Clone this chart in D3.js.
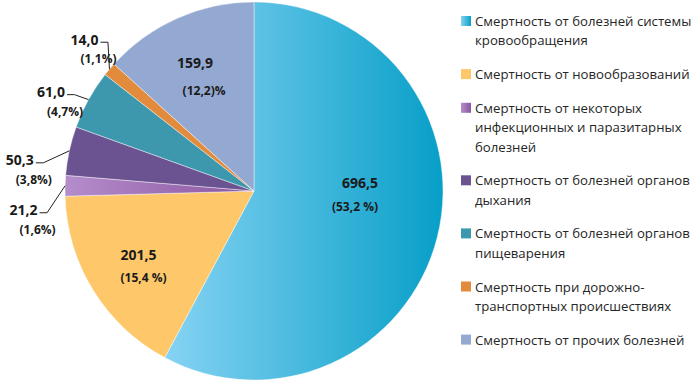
<!doctype html>
<html>
<head>
<meta charset="utf-8">
<script src="https://cdn.jsdelivr.net/npm/d3@7"></script>
<style>
  body { margin: 0; background: #fff; }
  svg { display: block; font-family: "Open Sans", sans-serif; }
</style>
</head>
<body>
<script>
// Data
const categories = [
  ["Смертность от болезней системы", "кровообращения"],
  ["Смертность от новообразований"],
  ["Смертность от некоторых", "инфекционных и паразитарных", "болезней"],
  ["Смертность от болезней органов", "дыхания"],
  ["Смертность от болезней органов", "пищеварения"],
  ["Смертность при дорожно-", "транспортных происшествиях"],
  ["Смертность от прочих болезней"]
];
const values = [696.5, 201.5, 21.2, 50.3, 61.0, 14.0, 159.9];
const valueLabels = ["696,5", "201,5", "21,2", "50,3", "61,0", "14,0", "159,9"];
const shareLabels = ["(53,2 %)", "(15,4 %)", "(1,6%)", "(3,8%)", "(4,7%)", "(1,1%)", "(12,2)%"];
const colors = [
  ["#86d3f3", "#079fc8"],
  ["#fec86a"],
  ["#b58dcb", "#8a55a0"],
  ["#6b5391"],
  ["#3d98ae"],
  ["#e38b3c"],
  ["#94a9d2"]
];

// Label placement (offsets from the computed arc points)
const inside = new Map([
  [0, {value: [-4, -36], share: [-9, -12]}],
  [1, {value: [-19, 4], share: [-14, 27]}],
  [6, {value: [-13, -25], share: [-4, 3]}]
]);
const outside = new Map([
  [2, [-18, 27]],
  [3, [-26, 12]],
  [4, [-14, -5]],
  [5, [-1.5, -27]]
]);

// Dimensions
const width = 700;
const height = 387;
const cx = 254;
const cy = 191;
const radius = 189;

const svg = d3.create("svg")
    .attr("viewBox", [0, 0, width, height])
    .attr("width", width)
    .attr("height", height);

// Gradients for the shaded slices
const defs = svg.append("defs");
colors.forEach((c, i) => {
  if (c.length < 2) return;
  const g = defs.append("linearGradient")
      .attr("id", `grad${i}`)
      .attr("x1", 0).attr("x2", 1).attr("y1", 0).attr("y2", 0);
  g.append("stop").attr("offset", 0).attr("stop-color", c[0]);
  g.append("stop").attr("offset", 1).attr("stop-color", c[1]);
});
const fill = (i) => colors[i].length > 1 ? `url(#grad${i})` : colors[i][0];

const pie = d3.pie().sort(null).value((d) => d);
const arcs = pie(values);
const arc = d3.arc().innerRadius(0).outerRadius(radius);
const labelArc = d3.arc().innerRadius(radius * 0.6).outerRadius(radius * 0.6);

const g = svg.append("g").attr("transform", `translate(${cx},${cy})`);

g.selectAll("path")
  .data(arcs)
  .join("path")
    .attr("d", arc)
    .attr("fill", (d, i) => fill(i))
    .attr("stroke", "#fff")
    .attr("stroke-opacity", 0.6)
    .attr("stroke-width", 0.7);

// Labels inside the big slices
for (const [i, off] of inside) {
  const [x, y] = labelArc.centroid(arcs[i]);
  g.append("text")
      .attr("x", x + off.value[0])
      .attr("y", y + off.value[1])
      .attr("text-anchor", "middle")
      .attr("dominant-baseline", "central")
      .attr("font-size", 14)
      .attr("font-weight", "bold")
      .attr("fill", "#1a1a1a")
      .text(valueLabels[i]);
  g.append("text")
      .attr("x", x + off.share[0])
      .attr("y", y + off.share[1])
      .attr("text-anchor", "middle")
      .attr("dominant-baseline", "central")
      .attr("font-size", 12)
      .attr("font-weight", "bold")
      .attr("fill", "#1a1a1a")
      .text(shareLabels[i]);
}

// Labels outside the small slices, with leader lines
for (const [i, off] of outside) {
  const a = (arcs[i].startAngle + arcs[i].endAngle) / 2;
  const [ex, ey] = d3.pointRadial(a, radius);
  const bx = ex + off[0];
  const by = ey + off[1];
  const lx = bx - 7.5;
  g.append("polyline")
      .attr("points", [[ex, ey], [bx, by], [lx, by]].join(" "))
      .attr("fill", "none")
      .attr("stroke", "#222")
      .attr("stroke-width", 1);
  const t = g.append("text")
      .attr("x", lx - 2)
      .attr("y", by - 3)
      .attr("text-anchor", "end")
      .attr("dominant-baseline", "central")
      .attr("font-size", 14)
      .attr("font-weight", "bold")
      .attr("fill", "#1a1a1a")
      .text(valueLabels[i]);
  const w = t.node().getComputedTextLength();
  g.append("text")
      .attr("x", lx - 2 - w / 2)
      .attr("y", by - 3 + 19.5)
      .attr("text-anchor", "middle")
      .attr("dominant-baseline", "central")
      .attr("font-size", 12)
      .attr("font-weight", "bold")
      .attr("fill", "#1a1a1a")
      .text(shareLabels[i]);
}

// Legend
const lineH = 19.4;
const itemGap = 14.3;
let ly = 21;
const legend = svg.append("g");
categories.forEach((lines, i) => {
  legend.append("rect")
      .attr("x", 461)
      .attr("y", ly - 5)
      .attr("width", 10)
      .attr("height", 10)
      .attr("fill", fill(i));
  lines.forEach((line, j) => {
    legend.append("text")
        .attr("x", 475)
        .attr("y", ly + j * lineH)
        .attr("dominant-baseline", "central")
        .attr("font-size", 13.2)
        .attr("fill", "#262626")
        .text(line);
  });
  ly += lines.length * lineH + itemGap;
});

document.body.append(svg.node());
</script>
</body>
</html>
